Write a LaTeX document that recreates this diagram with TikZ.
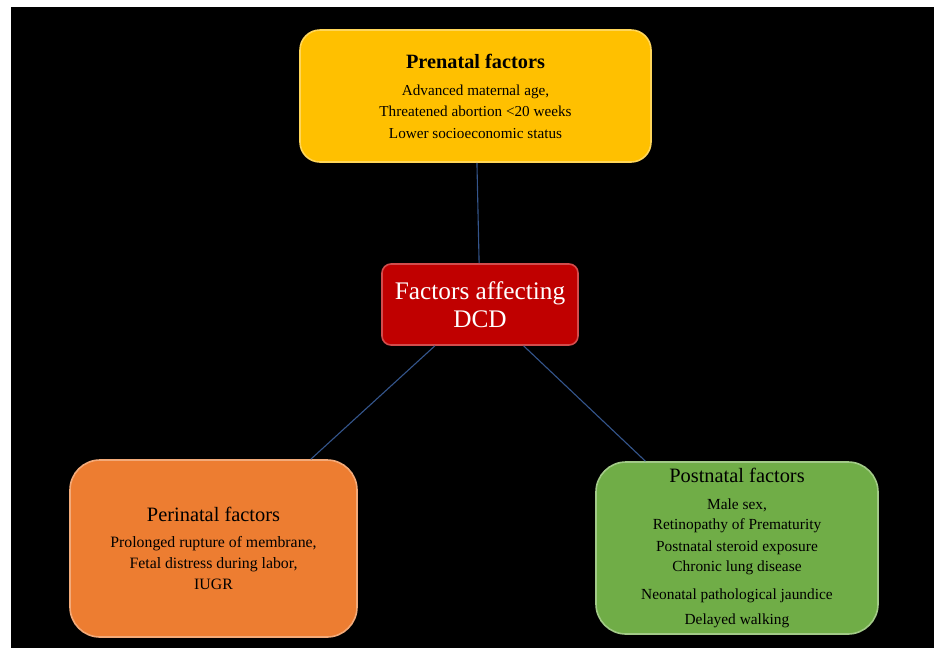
\documentclass[tikz,border=0pt]{standalone}
\usepackage{fontspec}
\setmainfont{Liberation Serif}
\definecolor{prenatalc}{HTML}{FFC000}
\definecolor{perinatalc}{HTML}{ED7D31}
\definecolor{postnatalc}{HTML}{70AD47}
\definecolor{dcdc}{HTML}{C00000}
\definecolor{linkblue}{HTML}{34558C}

\begin{document}
\begin{tikzpicture}[x=1pt,y=-1pt]
   \tikzstyle{factor}=[draw, line width=1.6pt, align=center, text=black, inner sep=0pt,
      font=\fontsize{15.2}{21.5}\selectfont]
   \tikzstyle{link}=[draw=linkblue, line width=1.1pt]

\useasboundingbox (0,0) rectangle (934,657);
\fill[white] (0,0) rectangle (934,657);
\fill[black] (11,7) rectangle (934,648);

\node[factor, fill=prenatalc, draw=prenatalc!65!white, rounded corners=20pt,
      minimum width=351, minimum height=132] (pre) at (475.5,96)
   {{\fontsize{20.3}{20}\selectfont\bfseries Prenatal factors}\\[5.5pt]
    Advanced maternal age,\\
    Threatened abortion <20 weeks\\
    Lower socioeconomic status};

\node[factor, fill=dcdc, draw=dcdc!70!white, rounded corners=9pt, text=white,
      font=\fontsize{25.3}{28}\selectfont,
      minimum width=196, minimum height=81] (dcd) at (480,304.5)
   {Factors affecting\\DCD};

\node[factor, fill=perinatalc, draw=perinatalc!65!white, rounded corners=30pt,
      font=\fontsize{15.8}{21}\selectfont,
      minimum width=287, minimum height=177] (peri) at (213.5,548.5)
   {{\fontsize{20.4}{20}\selectfont Perinatal factors}\\[5pt]
    Prolonged rupture of membrane,\\
    Fetal distress during labor,\\
    IUGR};

\node[factor, fill=postnatalc, draw=postnatalc!65!white, rounded corners=30pt,
      font=\fontsize{15.4}{21.5}\selectfont,
      minimum width=282, minimum height=172] (post) at (737,548)
   {{\fontsize{20.4}{20}\selectfont Postnatal factors}\\[5.5pt]
    Male sex,\\[-1pt]
    Retinopathy of Prematurity\\[0.5pt]
    Postnatal steroid exposure\\[-1.5pt]
    Chronic lung disease\\[6.5pt]
    Neonatal pathological jaundice\\[3.5pt]
    Delayed walking};

\draw[link] (pre) -- (dcd);
\draw[link] (dcd) -- (peri);
\draw[link] (dcd) -- (post);

\end{tikzpicture}
\end{document}
